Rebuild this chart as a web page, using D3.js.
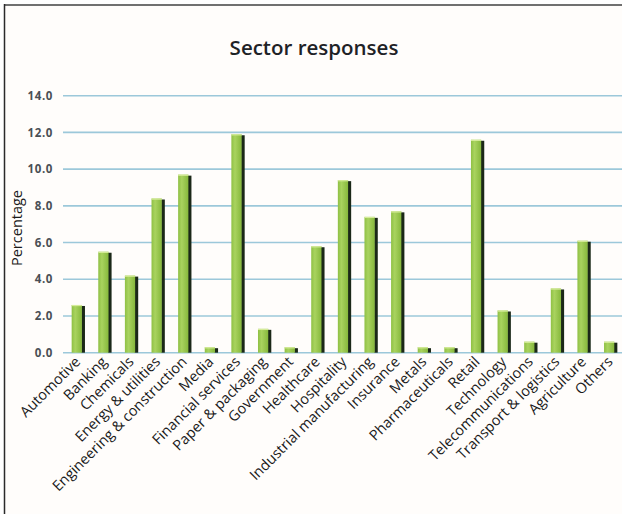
<!DOCTYPE html>
<html>
<head>
<meta charset="utf-8">
<script src="https://cdn.jsdelivr.net/npm/d3@7/dist/d3.min.js"></script>
<style>
  html, body { margin: 0; padding: 0; background: #ffffff; }
  svg { display: block; }
</style>
</head>
<body>
<div id="chart"></div>
<script>
// Share of survey responses by sector (percent)
const sectors = [
  "Automotive", "Banking", "Chemicals", "Energy & utilities",
  "Engineering & construction", "Media", "Financial services",
  "Paper & packaging", "Government", "Healthcare", "Hospitality",
  "Industrial manufacturing", "Insurance", "Metals", "Pharmaceuticals",
  "Retail", "Technology", "Telecommunications", "Transport & logistics",
  "Agriculture", "Others"
];
const percentages = [
  2.6, 5.5, 4.2, 8.4,
  9.7, 0.3, 11.9,
  1.3, 0.3, 5.8, 9.4,
  7.4, 7.7, 0.3, 0.3,
  11.6, 2.3, 0.6, 3.5,
  6.1, 0.6
];
const yTicks = [0, 2, 4, 6, 8, 10, 12, 14];
const chartTitle = "Sector responses";
const yTitle = "Percentage";

const W = 622, H = 514;
const svg = d3.select("#chart").append("svg")
  .attr("width", W).attr("height", H);

const defs = svg.append("defs");
const grad = defs.append("linearGradient")
  .attr("id", "barGreen").attr("x1", 0).attr("x2", 1).attr("y1", 0).attr("y2", 0);
grad.append("stop").attr("offset", "0%").attr("stop-color", "#8fc044");
grad.append("stop").attr("offset", "35%").attr("stop-color", "#a9d35f");
grad.append("stop").attr("offset", "100%").attr("stop-color", "#86b83c");

// panel background and frame
svg.append("rect").attr("x", 5).attr("y", 5).attr("width", W - 5).attr("height", H - 5)
  .attr("fill", "#fffdfb");
svg.append("line").attr("x1", 4).attr("x2", W).attr("y1", 5).attr("y2", 5)
  .attr("stroke", "#707070").attr("stroke-width", 2);
svg.append("line").attr("x1", 4.5).attr("x2", 4.5).attr("y1", 4).attr("y2", H)
  .attr("stroke", "#2a2a2a").attr("stroke-width", 1.5);

const x = d3.scaleBand()
  .domain(sectors)
  .range([65, 624])
  .paddingInner(0.5)
  .paddingOuter(0.25);

const y = d3.scaleLinear()
  .domain([0, 14])
  .range([352.7, 95.7]);

// horizontal gridlines
svg.append("g")
  .selectAll("line")
  .data(yTicks)
  .join("line")
  .attr("x1", 63).attr("x2", W)
  .attr("y1", d => y(d)).attr("y2", d => y(d))
  .attr("stroke", "#9cc8da").attr("stroke-width", 1.6);

// y axis labels
const yAxis = svg.append("g")
  .attr("transform", "translate(53,0)")
  .call(d3.axisLeft(y).tickValues(yTicks).tickFormat(d3.format(".1f")).tickSize(0).tickPadding(0));
yAxis.select(".domain").remove();
yAxis.selectAll("text")
  .attr("font-family", "'Open Sans', sans-serif")
  .attr("font-size", 11.5)
  .attr("font-weight", 700)
  .attr("letter-spacing", 0.6)
  .attr("fill", "#4a4f55");

// bars: green face with a dark side edge
const bw = x.bandwidth();
const face = bw * 0.77;
const bars = svg.append("g")
  .selectAll("g")
  .data(sectors.map((s, i) => ({ s, v: percentages[i] })))
  .join("g");
bars.append("rect")
  .attr("x", d => x(d.s) + face - 0.5)
  .attr("y", d => y(d.v) + 1)
  .attr("width", bw - face + 0.5)
  .attr("height", d => y(0) - y(d.v) - 1)
  .attr("fill", "#1b2818");
bars.append("rect")
  .attr("x", d => x(d.s))
  .attr("y", d => y(d.v))
  .attr("width", face)
  .attr("height", d => y(0) - y(d.v))
  .attr("fill", "url(#barGreen)");
bars.append("rect")
  .attr("x", d => x(d.s))
  .attr("y", d => y(d.v))
  .attr("width", face)
  .attr("height", 1.2)
  .attr("fill", "#d6ec9a");

// category labels, rotated
const xAxis = svg.append("g")
  .attr("transform", `translate(0,${y(0)})`)
  .call(d3.axisBottom(x).tickSize(0).tickPadding(0));
xAxis.select(".domain").remove();
xAxis.selectAll("text")
  .attr("font-family", "'Open Sans', sans-serif")
  .attr("font-size", 14.5)
  .attr("fill", "#1a1a1a")
  .attr("text-anchor", "end")
  .attr("dy", null)
  .attr("y", 0)
  .attr("transform", "translate(3,10) rotate(-45)");

// title
svg.append("text")
  .attr("x", 314).attr("y", 55)
  .attr("text-anchor", "middle")
  .attr("font-family", "'Open Sans', sans-serif")
  .attr("font-size", 20.5)
  .attr("font-weight", 600)
  .attr("fill", "#1e2226")
  .text(chartTitle);

// y axis title
svg.append("text")
  .attr("transform", "translate(22,228) rotate(-90)")
  .attr("text-anchor", "middle")
  .attr("font-family", "'Open Sans', sans-serif")
  .attr("font-size", 14.5)
  .attr("fill", "#1a1a1a")
  .text(yTitle);
</script>
</body>
</html>
